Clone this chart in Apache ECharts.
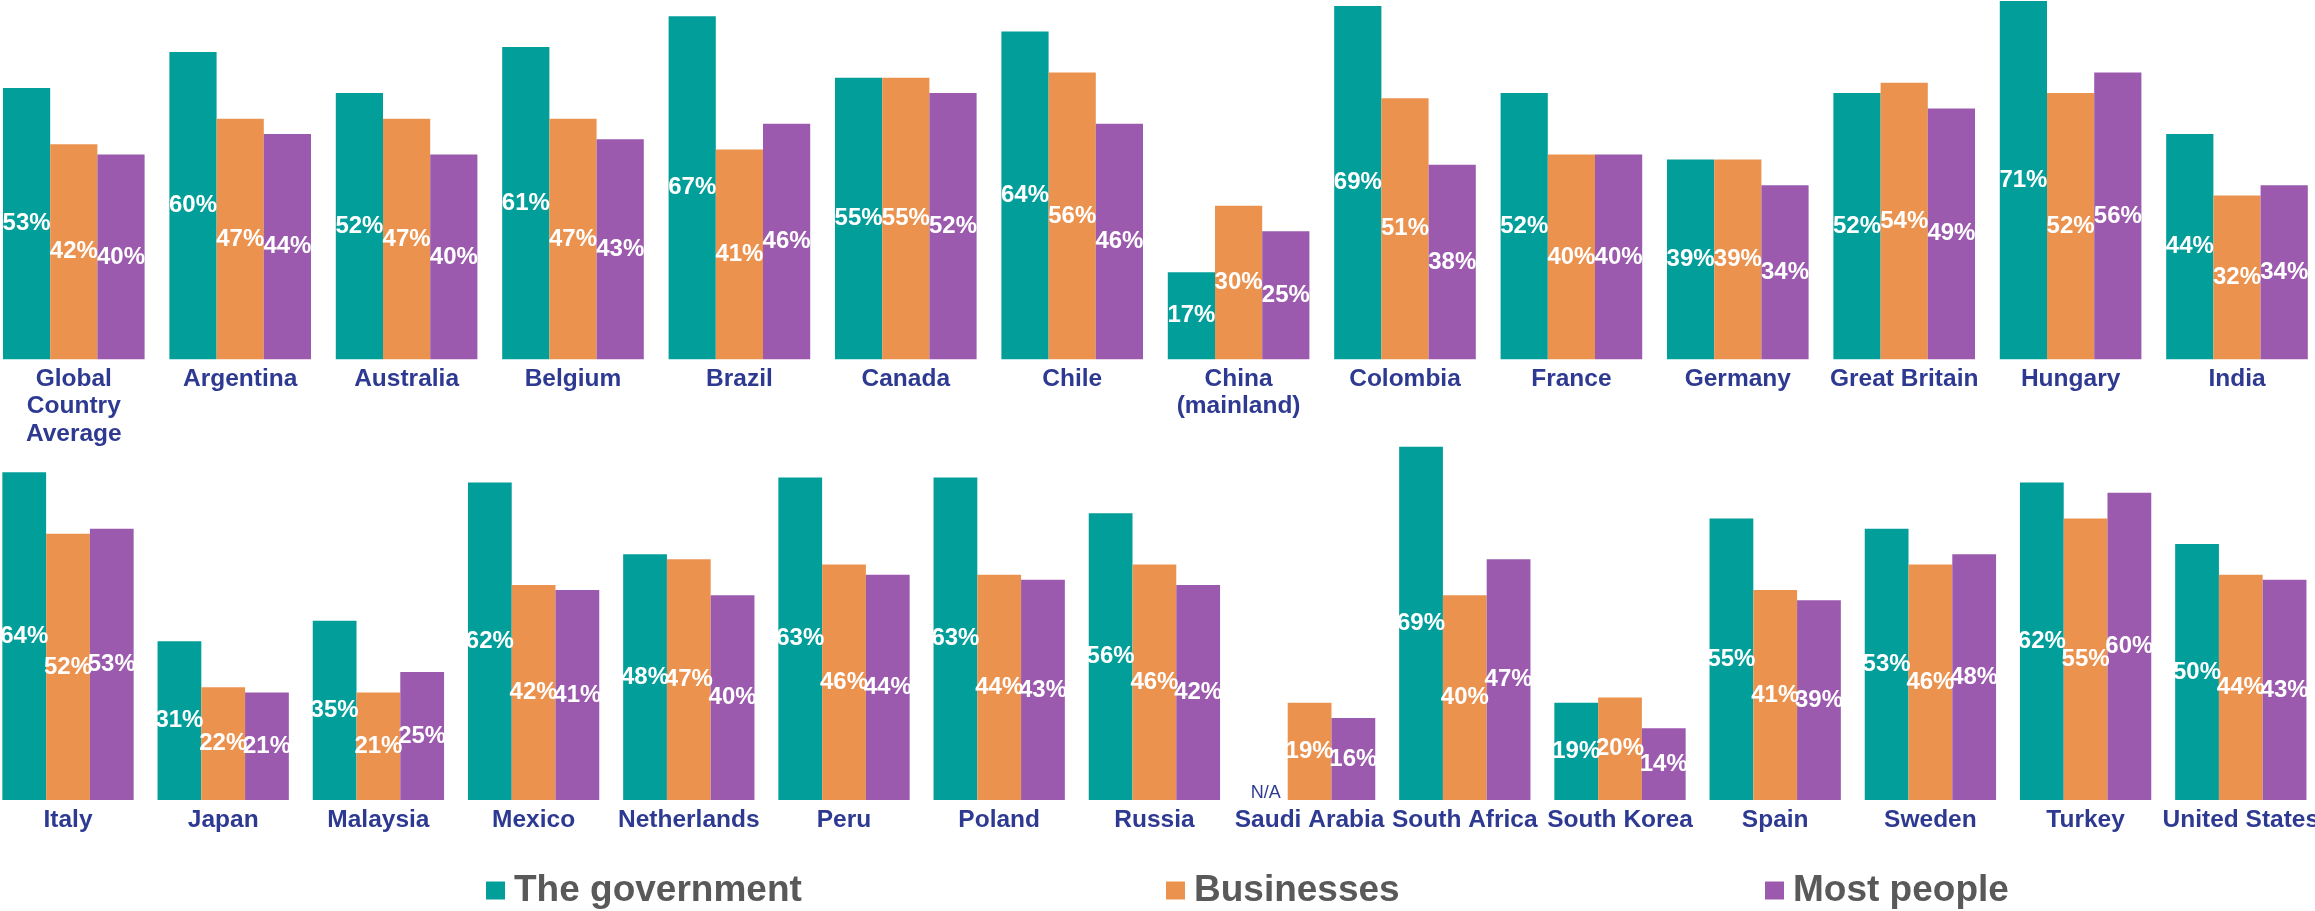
<!DOCTYPE html>
<html>
<head>
<meta charset="utf-8">
<script src="https://cdn.jsdelivr.net/npm/echarts@6/dist/echarts.min.js"></script>
<style>
html,body{margin:0;padding:0;background:#fff;}
#chart{width:2315px;height:911px;}
</style>
</head>
<body>
<div id="chart"></div>
<script>
const seriesNames = ['The government', 'Businesses', 'Most people'];
const colors = ['#029E9A', '#EC924F', '#9B5AAE'];

const topCategories = ['Global\nCountry\nAverage', 'Argentina', 'Australia', 'Belgium', 'Brazil', 'Canada', 'Chile', 'China\n(mainland)', 'Colombia', 'France', 'Germany', 'Great Britain', 'Hungary', 'India'];
const topGov = [53, 60, 52, 61, 67, 55, 64, 17, 69, 52, 39, 52, 71, 44];
const topBus = [42, 47, 47, 47, 41, 55, 56, 30, 51, 40, 39, 54, 52, 32];
const topPeople = [40, 44, 40, 43, 46, 52, 46, 25, 38, 40, 34, 49, 56, 34];

const bottomCategories = ['Italy', 'Japan', 'Malaysia', 'Mexico', 'Netherlands', 'Peru', 'Poland', 'Russia', 'Saudi Arabia', 'South Africa', 'South Korea', 'Spain', 'Sweden', 'Turkey', 'United States'];
const bottomGov = [64, 31, 35, 62, 48, 63, 63, 56, null, 69, 19, 55, 53, 62, 50];
const bottomBus = [52, 22, 21, 42, 47, 46, 44, 46, 19, 40, 20, 41, 46, 55, 44];
const bottomPeople = [53, 21, 25, 41, 40, 44, 43, 42, 16, 47, 14, 39, 48, 60, 43];

const FONT = 'Liberation Sans, Arial, sans-serif';
const catColor = '#2E3A92';

function toData(arr) {
  return arr.map(v => v === null ? {
    value: 0,
    label: { show: true, position: 'top', distance: -2, formatter: 'N/A', color: catColor, fontWeight: 'normal', fontSize: 18 }
  } : v);
}

function makeSeries(name, color, values, idx, gap) {
  return {
    name: name,
    type: 'bar',
    xAxisIndex: idx,
    yAxisIndex: idx,
    data: toData(values),
    barGap: '0%',
    barCategoryGap: gap,
    itemStyle: { color: color },
    label: {
      show: true,
      position: 'inside',
      formatter: '{c}%',
      color: '#ffffff',
      fontFamily: FONT,
      fontWeight: 'bold',
      fontSize: 24
    },
    emphasis: { disabled: true }
  };
}

const chart = echarts.init(document.getElementById('chart'));

function xAxis(cats, idx) {
  return {
    type: 'category',
    gridIndex: idx,
    data: cats,
    axisLine: { show: false },
    axisTick: { show: false },
    axisLabel: {
      interval: 0,
      margin: 6,
      color: catColor,
      fontFamily: FONT,
      fontWeight: 'bold',
      fontSize: 24.5,
      lineHeight: 27.5
    }
  };
}
function yAxis(idx) {
  return { type: 'value', gridIndex: idx, min: 0, max: 70, show: false, splitLine: { show: false } };
}

const legendBase = {
  orient: 'horizontal',
  top: 872,
  padding: 0,
  itemWidth: 19,
  itemHeight: 18,
  icon: 'rect',
  selectedMode: false,
  textStyle: { fontFamily: FONT, fontWeight: 'bold', fontSize: 37, color: '#595959', padding: [0, 0, 0, 4] }
};

chart.setOption({
  animation: false,
  backgroundColor: '#ffffff',
  color: colors,
  legend: [
    Object.assign({}, legendBase, { left: 486, data: [seriesNames[0]] }),
    Object.assign({}, legendBase, { left: 1166, data: [seriesNames[1]] }),
    Object.assign({}, legendBase, { left: 1765, data: [seriesNames[2]] })
  ],
  grid: [
    { left: -9.4, right: -5.2, top: 0.9, height: 358.4, containLabel: false, outerBoundsMode: 'none' },
    { left: -9.6, right: -3.4, top: 441.6, height: 358.4, containLabel: false, outerBoundsMode: 'none' }
  ],
  xAxis: [xAxis(topCategories, 0), xAxis(bottomCategories, 1)],
  yAxis: [yAxis(0), yAxis(1)],
  series: [
    makeSeries(seriesNames[0], colors[0], topGov, 0, '14.9%'),
    makeSeries(seriesNames[1], colors[1], topBus, 0, '14.9%'),
    makeSeries(seriesNames[2], colors[2], topPeople, 0, '14.9%'),
    makeSeries(seriesNames[0], colors[0], bottomGov, 1, '15.4%'),
    makeSeries(seriesNames[1], colors[1], bottomBus, 1, '15.4%'),
    makeSeries(seriesNames[2], colors[2], bottomPeople, 1, '15.4%')
  ]
});
</script>
</body>
</html>
